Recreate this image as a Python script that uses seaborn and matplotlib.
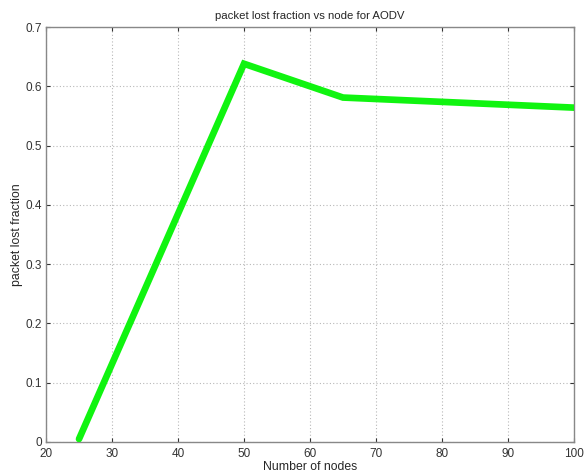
import matplotlib
matplotlib.use("Agg")
import matplotlib.pyplot as plt
import seaborn as sns
import pandas as pd

nodes = [25, 50, 65, 100]
loss_fraction = [0.005, 0.638, 0.581, 0.564]
x_ticks = [20, 30, 40, 50, 60, 70, 80, 90, 100]
y_ticks = [0, 0.1, 0.2, 0.3, 0.4, 0.5, 0.6, 0.7]
y_tick_labels = ["0", "0.1", "0.2", "0.3", "0.4", "0.5", "0.6", "0.7"]

sns.set_style("white")
plt.rcParams['font.family'] = ['Liberation Sans', 'DejaVu Sans']

df = pd.DataFrame({"nodes": nodes, "loss": loss_fraction})

fig = plt.figure(figsize=(5.84, 4.76), dpi=100)
ax = fig.add_axes([46 / 584, 34 / 476, 528 / 584, 415 / 476])
sns.lineplot(data=df, x="nodes", y="loss", ax=ax, color="#10f410", linewidth=4.8,
             solid_joinstyle="miter", zorder=3)

ax.set_xlim(20, 100)
ax.set_ylim(0, 0.7)
ax.set_xticks(x_ticks)
ax.set_xticklabels([str(t) for t in x_ticks])
ax.set_yticks(y_ticks)
ax.set_yticklabels(y_tick_labels)
ax.grid(True, color="#b8b8b8", linestyle=(0, (1, 2)), linewidth=0.8)
ax.tick_params(direction="in", length=3, labelsize=8.5, colors="#333333",
               top=True, right=True, bottom=True, left=True)
ax.tick_params(axis="x", pad=4)
ax.tick_params(axis="y", pad=3)
for s in ax.spines.values():
    s.set_color("#888888")
    s.set_linewidth(1.0)
ax.set_xlabel("Number of nodes", fontsize=8.8, labelpad=1)
ax.set_ylabel("packet lost fraction", fontsize=8.8, labelpad=1.5)
ax.set_title("packet lost fraction vs node for AODV", fontsize=8.2, pad=6)

fig.savefig("out.png", dpi=100)
